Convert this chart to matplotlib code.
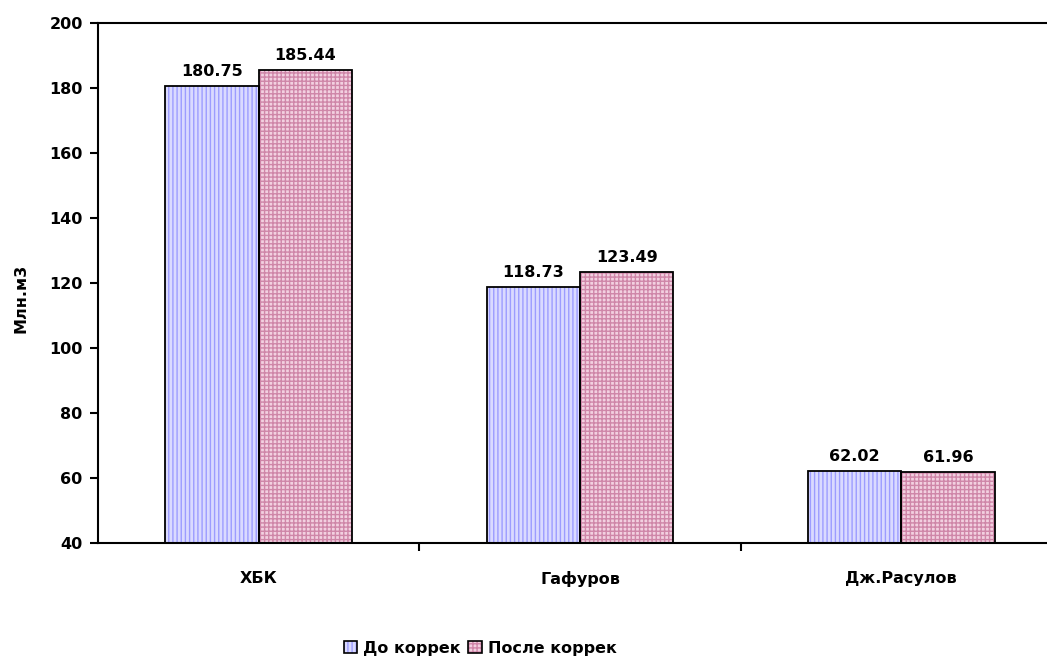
import matplotlib
matplotlib.use("Agg")
import matplotlib.pyplot as plt
import numpy as np
from matplotlib.patches import Patch
from matplotlib.legend_handler import HandlerTuple

plt.rcParams['font.family'] = ['DejaVu Sans']
plt.rcParams['font.weight'] = 'bold'
plt.rcParams['hatch.linewidth'] = 1.0

categories = ["ХБК", "Гафуров", "Дж.Расулов"]
before = [180.75, 118.73, 62.02]
after = [185.44, 123.49, 61.96]
series_names = ["До коррек", "После коррек"]
yticks = [40, 60, 80, 100, 120, 140, 160, 180, 200]

FS = 11.5

fig = plt.figure(figsize=(10.47, 6.6), dpi=100)
ax = fig.add_axes([98 / 1047, 1 - 543 / 660, (1062 - 98) / 1047, 520 / 660])

x = np.arange(len(categories))
w = 0.29

blue_face, blue_hatch = '#dadaff', '#9c9cff'
pink_face, pink_hatch = '#f2d0e0', '#cf86a8'

# patterned fills first, then black outlines on top
ax.bar(x - w / 2, before, w, color=blue_face, edgecolor=blue_hatch,
       hatch='||||', linewidth=0, zorder=2)
ax.bar(x + w / 2, after, w, color=pink_face, edgecolor=pink_hatch,
       hatch='++++', linewidth=0, zorder=2)
ax.bar(x - w / 2, before, w, fill=False, edgecolor='black', linewidth=1.3, zorder=3)
ax.bar(x + w / 2, after, w, fill=False, edgecolor='black', linewidth=1.3, zorder=3)

for xi, v in zip(x - w / 2, before):
    ax.annotate(f"{v:.2f}", (xi, v), xytext=(0, 5), textcoords='offset points',
                ha='center', va='bottom', fontsize=FS, fontweight='bold')
for xi, v in zip(x + w / 2, after):
    ax.annotate(f"{v:.2f}", (xi, v), xytext=(0, 5), textcoords='offset points',
                ha='center', va='bottom', fontsize=FS, fontweight='bold')

ax.set_ylim(40, 200)
ax.set_xlim(-0.5, len(categories) - 0.5)
ax.set_yticks(yticks)
ax.set_yticklabels([str(t) for t in yticks], fontsize=FS, fontweight='bold')
ax.set_xticks(x)
ax.set_xticklabels(categories, fontsize=FS, fontweight='bold')
ax.set_xticks(np.arange(len(categories) - 1) + 0.5, minor=True)
ax.tick_params(axis='x', which='major', length=0, pad=20)
ax.tick_params(axis='x', which='minor', length=6, width=1.5, direction='out')
ax.tick_params(axis='y', length=6, width=1.5, direction='out', pad=5)

ax.spines['right'].set_visible(False)
for side in ['left', 'bottom', 'top']:
    ax.spines[side].set_linewidth(1.5)

fig.text(21 / 1047, 1 - 298 / 660, "Млн.м3", rotation=90, ha='center', va='center',
         fontsize=FS, fontweight='bold')

handles = [
    (Patch(facecolor=blue_face, edgecolor=blue_hatch, hatch='||||', linewidth=0),
     Patch(fill=False, edgecolor='black', linewidth=1.2)),
    (Patch(facecolor=pink_face, edgecolor=pink_hatch, hatch='++++', linewidth=0),
     Patch(fill=False, edgecolor='black', linewidth=1.2)),
]
fig.legend(handles, series_names, loc='center', bbox_to_anchor=(480 / 1047, 1 - 648 / 660),
           ncol=2, frameon=False, prop={'weight': 'bold', 'size': FS},
           handler_map={tuple: HandlerTuple(ndivide=1)},
           handlelength=0.85, handleheight=0.85, handletextpad=0.35, columnspacing=0.5)

fig.savefig("out.png", dpi=100)
